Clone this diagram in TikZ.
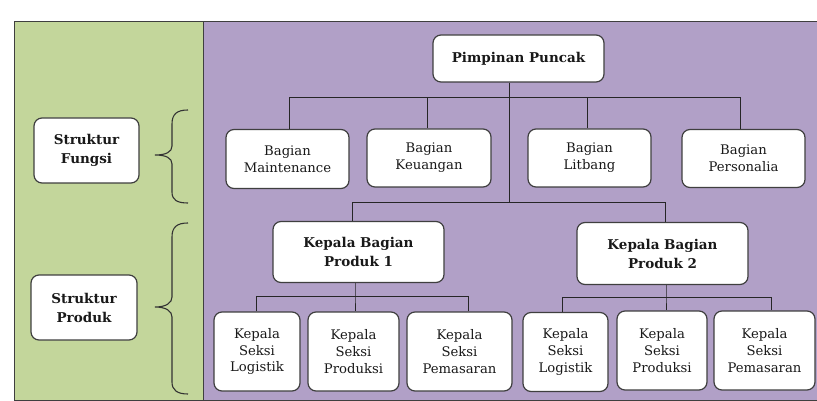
\documentclass[tikz,border=0pt]{standalone}
\usepackage{fontspec}
\setmainfont{DejaVu Serif}
\definecolor{panelgreen}{HTML}{C3D69B}
\definecolor{panelpurple}{HTML}{B1A0C7}
\definecolor{edge}{HTML}{3F3F3F}
\begin{document}
\begin{tikzpicture}[x=1pt,y=-1pt,
  box/.style={draw=edge,line width=1.2pt,fill=white,rounded corners=8pt,align=center,
    inner sep=0pt,text=black!90,font=\fontsize{13.2}{16.8}\selectfont},
  bbox/.style={box,font=\bfseries\fontsize{13.5}{19}\selectfont},
  link/.style={draw=black!85,line width=1pt},
  brace/.style={draw=black!80,line width=1.1pt}]
\useasboundingbox (0,0) rectangle (817,401);
% panels
\fill[panelgreen] (14,22) rectangle (203,400);
\fill[panelpurple] (203,22) rectangle (817,400);
\draw[edge,line width=1pt] (817,22) -- (14,22) -- (14,400) -- (817,400);
\draw[edge,line width=1pt] (203,22) -- (203,400);
% left labels
\node[bbox,minimum width=105pt,minimum height=65pt] (sf) at (86.5,150.5) {Struktur\\Fungsi};
\node[bbox,minimum width=106pt,minimum height=65pt] (sp) at (84,307.5) {Struktur\\Produk};
% braces
\draw[brace] (188,110) .. controls (177,110) and (172,114) .. (172,124) -- (172,146)
  .. controls (172,152) and (166,155) .. (155,155)
  .. controls (166,155) and (172,158) .. (172,164) -- (172,192)
  .. controls (172,200) and (177,203) .. (188,203);
\draw[brace] (188,223) .. controls (177,223) and (172,227) .. (172,237) -- (172,297)
  .. controls (172,303) and (166,307) .. (155,307)
  .. controls (166,307) and (172,311) .. (172,317) -- (172,382)
  .. controls (172,390) and (177,394) .. (188,394);
% top
\node[bbox,minimum width=171pt,minimum height=47pt] (top) at (518.5,58.5) {Pimpinan Puncak};
% bagian row
\node[box,minimum width=123pt,minimum height=59pt] (maint) at (287.5,159) {Bagian\\Maintenance};
\node[box,minimum width=124pt,minimum height=58pt] (keu) at (429,158) {Bagian\\Keuangan};
\node[box,minimum width=123pt,minimum height=58pt] (lit) at (589.5,158) {Bagian\\Litbang};
\node[box,minimum width=123pt,minimum height=58pt] (pers) at (743.5,158.5) {Bagian\\Personalia};
% produk heads
\node[bbox,minimum width=171pt,minimum height=61pt] (p1) at (358.5,252) {Kepala Bagian\\Produk 1};
\node[bbox,minimum width=171pt,minimum height=62pt] (p2) at (662.5,253.5) {Kepala Bagian\\Produk 2};
% seksi
\node[box,minimum width=86pt,minimum height=79pt] (l1) at (257,351.5) {Kepala\\Seksi\\Logistik};
\node[box,minimum width=91pt,minimum height=79pt] (r1) at (353.5,351.5) {Kepala\\Seksi\\Produksi};
\node[box,minimum width=105pt,minimum height=79pt] (m1) at (459.5,351.5) {Kepala\\Seksi\\Pemasaran};
\node[box,minimum width=85pt,minimum height=79pt] (l2) at (565.5,352) {Kepala\\Seksi\\Logistik};
\node[box,minimum width=90pt,minimum height=79pt] (r2) at (662,350.5) {Kepala\\Seksi\\Produksi};
\node[box,minimum width=101pt,minimum height=79pt] (m2) at (764.5,350.5) {Kepala\\Seksi\\Pemasaran};
% junction coordinates
\coordinate (jt) at (509,98);
\coordinate (jp) at (509,202);
\coordinate (ja) at (289,98);
\coordinate (jb) at (427,98);
\coordinate (jc) at (587,98);
\coordinate (jd) at (740,98);
\coordinate (jp1) at (352,202);
\coordinate (jp2) at (665,202);
\coordinate (k1) at (355,296);
\coordinate (k1l) at (256,296);
\coordinate (k1r) at (468,296);
\coordinate (k2) at (666,297);
\coordinate (k2l) at (562,297);
\coordinate (k2r) at (771,297);
% connectors
\draw[link] (top.south -| jt) -- (jp);
\draw[link] (ja |- maint.north) -- (ja) -- (jd) -- (jd |- pers.north);
\draw[link] (jb) -- (jb |- keu.north);
\draw[link] (jc) -- (jc |- lit.north);
\draw[link] (jp1 |- p1.north) -- (jp1) -- (jp2) -- (jp2 |- p2.north);
\draw[link] (k1 |- p1.south) -- (k1) -- (k1 |- r1.north);
\draw[link] (k1l |- l1.north) -- (k1l) -- (k1r) -- (k1r |- m1.north);
\draw[link] (k2 |- p2.south) -- (k2) -- (k2 |- r2.north);
\draw[link] (k2l |- l2.north) -- (k2l) -- (k2r) -- (k2r |- m2.north);
\end{tikzpicture}
\end{document}
